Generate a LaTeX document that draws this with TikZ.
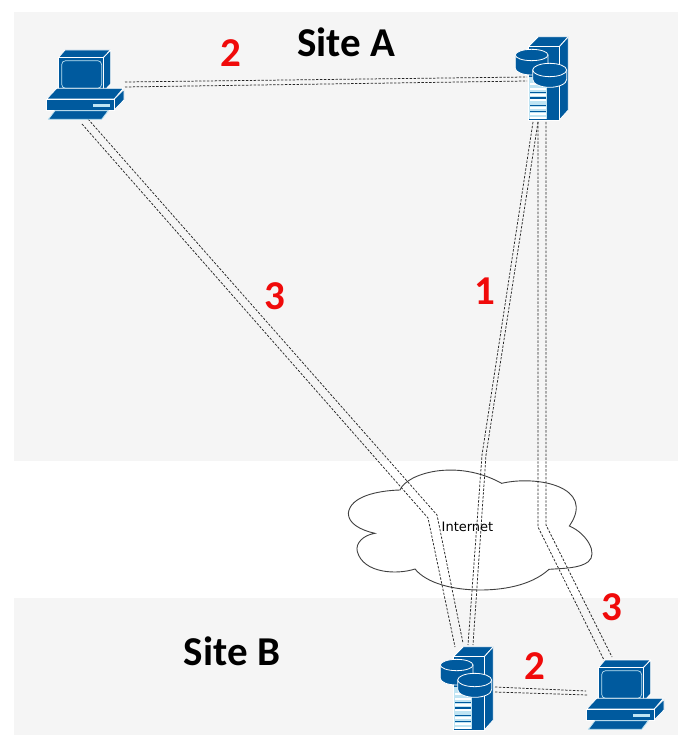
\documentclass[tikz,border=0pt]{standalone}
\usepackage{fontspec}
\setmainfont{Carlito}
\newfontfamily\cloudfont{DejaVu Sans}
\definecolor{panelgray}{HTML}{F5F5F5}
\definecolor{iconblue}{HTML}{005A9E}
\definecolor{iconpale}{HTML}{BFE4F3}
\definecolor{numred}{HTML}{F00A0A}
\tikzset{
  iconface/.style={fill=iconblue,draw=white,line width=0.8pt,line join=round},
  pics/pcicon/.style={code={
    \begin{scope}[scale=1/3]
      \path[iconface] (115,113) -- (135,90) -- (272,90) -- (250,113) -- cycle;
      \path[iconface] (250,113) -- (272,90) -- (272,192) -- (250,215) -- cycle;
      \path[iconface] (115,113) rectangle (250,215);
      \path[draw=iconpale,fill=iconblue,line width=0.7pt,rounded corners=4pt] (125,122) rectangle (245,205);
      \path[iconface] (80,237) -- (110,205) -- (310,205) -- (283,237) -- cycle;
      \path[iconface] (283,237) -- (312,208) -- (312,240) -- (283,270) -- cycle;
      \path[iconface] (80,237) rectangle (283,270);
      \fill[iconpale] (220,252) rectangle (270,260);
      \path[iconface,draw=iconpale] (85,298) -- (105,272) -- (265,272) -- (245,298) -- cycle;
    \end{scope}
  }},
  pics/servericon/.style={code={
    \begin{scope}[scale=1/3]
      \path[iconface] (115,80) -- (145,50) -- (235,50) -- (208,80) -- cycle;
      \path[iconface] (208,80) -- (235,50) -- (235,270) -- (208,300) -- cycle;
      \path[iconface] (115,80) rectangle (208,300);
      \fill[iconpale] (117,170) rectangle (171,298);
      \foreach \ypos in {190,205,222,238,262,278,290}
        \fill[white] (119,\ypos) rectangle (169,\ypos+6);
      \foreach \ypos in {216,232,255,272}
        \fill[iconblue] (119,\ypos) rectangle (169,\ypos+4);
      \path[iconface] (76,105) -- (76,145) arc[start angle=180,end angle=0,x radius=49,y radius=20] -- (174,105) -- cycle;
      \path[iconface] (125,105) ellipse [x radius=49,y radius=17];
      \path[iconface] (128,150) -- (128,178) arc[start angle=180,end angle=0,x radius=51,y radius=24] -- (230,150) -- cycle;
      \path[iconface] (179,150) ellipse [x radius=51,y radius=20];
    \end{scope}
  }}
}
\begin{document}
\begin{tikzpicture}[x=1pt,y=-1pt,
  link/.style={draw=black!85,line width=0.75pt,dash pattern=on 2.4pt off 1.5pt},
  sitename/.style={font=\fontsize{41}{41}\selectfont\bfseries},
  stepnum/.style={font=\fontsize{41}{41}\selectfont\bfseries,text=numred}]

  \useasboundingbox (0,0) rectangle (681,735);
  \fill[panelgray] (14,12) rectangle (678,461);
  \fill[panelgray] (14,598) rectangle (678,735);

  % cloud
  \begin{scope}[shift={(340,450)},scale=1/3]
    \draw[fill=white,draw=black!75,line width=0.9pt] (180,120) .. controls (200,70) and (350,25) .. (485,100)
      .. controls (590,75) and (770,110) .. (688,228)
      .. controls (740,250) and (775,310) .. (745,335) .. controls (720,355) and (670,355) .. (627,358)
      .. controls (570,410) and (480,420) .. (420,420) .. controls (340,420) and (260,400) .. (225,357)
      .. controls (170,375) and (70,370) .. (52,305) .. controls (45,280) and (70,255) .. (105,250)
      .. controls (60,240) and (25,220) .. (25,190) .. controls (30,140) and (110,122) .. (180,120) -- cycle;
  \end{scope}
  \node (internet) at (467.5,527) {\cloudfont\fontsize{13}{13}\selectfont Internet};

  % link ends
  \coordinate (pcAr1) at (125,82);  \coordinate (srvAl1) at (527,77);
  \coordinate (pcAr2) at (125,87);  \coordinate (srvAl2) at (527,81);
  \coordinate (pcAb1) at (82,124);  \coordinate (bend1) at (428,518); \coordinate (srvBt1) at (455,647);
  \coordinate (pcAb2) at (88,119);  \coordinate (bend2) at (437,515); \coordinate (srvBt2) at (463,643);
  \coordinate (srvAb1) at (533,122); \coordinate (bend3) at (482,455); \coordinate (srvBt3) at (468,645);
  \coordinate (srvAb2) at (538,122); \coordinate (bend4) at (486,455); \coordinate (srvBt4) at (473,645);
  \coordinate (srvAb3) at (538,122); \coordinate (bend5) at (538,527); \coordinate (pcBt1) at (605,662);
  \coordinate (srvAb4) at (546,122); \coordinate (bend6) at (546,525); \coordinate (pcBt2) at (612,657);
  \coordinate (srvBr1) at (495,687); \coordinate (pcBl1) at (586,691);
  \coordinate (srvBr2) at (495,692); \coordinate (pcBl2) at (587,695);

  \draw[link] (pcAr1) -- (srvAl1);
  \draw[link] (pcAr2) -- (srvAl2);
  \draw[link] (pcAb1) -- (bend1) -- (srvBt1);
  \draw[link] (pcAb2) -- (bend2) -- (srvBt2);
  \draw[link] (srvAb1) -- (bend3) -- (srvBt3);
  \draw[link] (srvAb2) -- (bend4) -- (srvBt4);
  \draw[link] (srvAb3) -- (bend5) -- (pcBt1);
  \draw[link] (srvAb4) -- (bend6) -- (pcBt2);
  \draw[link] (srvBr1) -- (pcBl1);
  \draw[link] (srvBr2) -- (pcBl2);

  \pic (pcA) at (20,20) {pcicon};
  \pic (pcB) at (560,630) {pcicon};
  \pic (srvA) at (490,20) {servericon};
  \pic (srvB) at (415,630) {servericon};

  \node[sitename] (siteA) at (346,42) {Site A};
  \node[sitename] (siteB) at (232,651) {Site B};

  \node[stepnum] (numA) at (231,53) {2};
  \node[stepnum] (numB) at (275,296) {3};
  \node[stepnum] (numC) at (485,291) {1};
  \node[stepnum] (numD) at (612,607) {3};
  \node[stepnum] (numE) at (535,666) {2};
\end{tikzpicture}
\end{document}
